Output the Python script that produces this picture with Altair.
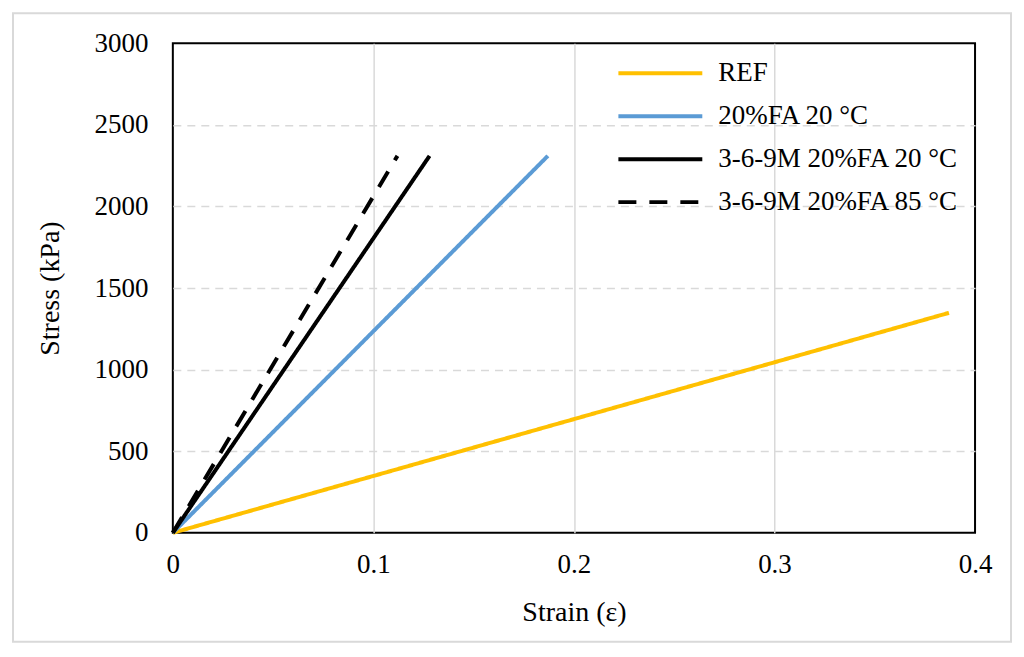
import altair as alt
import pandas as pd

series = ["REF", "20%FA 20 °C", "3-6-9M 20%FA 20 °C", "3-6-9M 20%FA 85 °C"]
strain_end = [0.387, 0.187, 0.128, 0.112]
stress_end = [1348, 2310, 2310, 2310]
colors = ["#FFC000", "#5B9BD5", "#000000", "#000000"]
dashes = [[1, 0], [1, 0], [1, 0], [18, 13]]
x_ticks = [0, 0.1, 0.2, 0.3, 0.4]
y_ticks = [0, 500, 1000, 1500, 2000, 2500, 3000]

rows = []
for i, s in enumerate(series):
    rows.append({"series": s, "strain": 0.0, "stress": 0.0, "o": 0})
    rows.append({"series": s, "strain": strain_end[i], "stress": stress_end[i], "o": 1})
df = pd.DataFrame(rows)

FONT = "Liberation Serif"

lines = alt.Chart(df).mark_line(strokeWidth=4, strokeCap="butt").encode(
    x=alt.X("strain:Q", title="Strain (ε)",
            scale=alt.Scale(domain=[0, 0.4], nice=False),
            axis=alt.Axis(values=x_ticks, format="~g", labelPadding=19,
                          labelFlush=False, titlePadding=21, gridDash=[1, 0],
                          gridOpacity=alt.condition("datum.value <= 0 || datum.value >= 0.4",
                                                    alt.value(0), alt.value(1)))),
    y=alt.Y("stress:Q", title="Stress (kPa)",
            scale=alt.Scale(domain=[0, 3000], nice=False),
            axis=alt.Axis(values=y_ticks, format="d", labelPadding=25,
                          labelFlush=False, titlePadding=29, gridDash=[8, 6],
                          gridOpacity=alt.condition("datum.value <= 0 || datum.value >= 3000",
                                                    alt.value(0), alt.value(1)))),
    color=alt.Color("series:N", title=None,
                    scale=alt.Scale(domain=series, range=colors),
                    legend=alt.Legend(orient="none", legendX=444, legendY=15,
                                      symbolType="stroke", symbolSize=7056,
                                      symbolStrokeWidth=4, labelFontSize=27,
                                      labelFont=FONT, labelColor="black",
                                      labelOffset=14, rowPadding=13,
                                      clipHeight=30,
                                      padding=0, labelLimit=400)),
    strokeDash=alt.StrokeDash("series:N", title=None,
                              scale=alt.Scale(domain=series, range=dashes)),
    detail="series:N",
    order="o:Q",
)

frame = alt.Chart(pd.DataFrame({"a": [0]})).mark_rect(
    fill="white", fillOpacity=0, stroke="#d9d9d9", strokeWidth=2
).encode(
    x=alt.value(-160), x2=alt.value(839),
    y=alt.value(-30), y2=alt.value(599),
)

chart = alt.layer(frame, lines).properties(
    width=803, height=490, padding=4
).configure_view(
    stroke="black", strokeWidth=2
).configure_axis(
    grid=True, gridColor="#d9d9d9", gridWidth=1.5,
    domain=False, ticks=False,
    labelFont=FONT, labelFontSize=27, labelColor="black",
    titleFont=FONT, titleFontSize=28, titleColor="black", titleFontWeight="normal",
)

chart.save("out.html", embed_options={"renderer": "svg", "actions": False})
